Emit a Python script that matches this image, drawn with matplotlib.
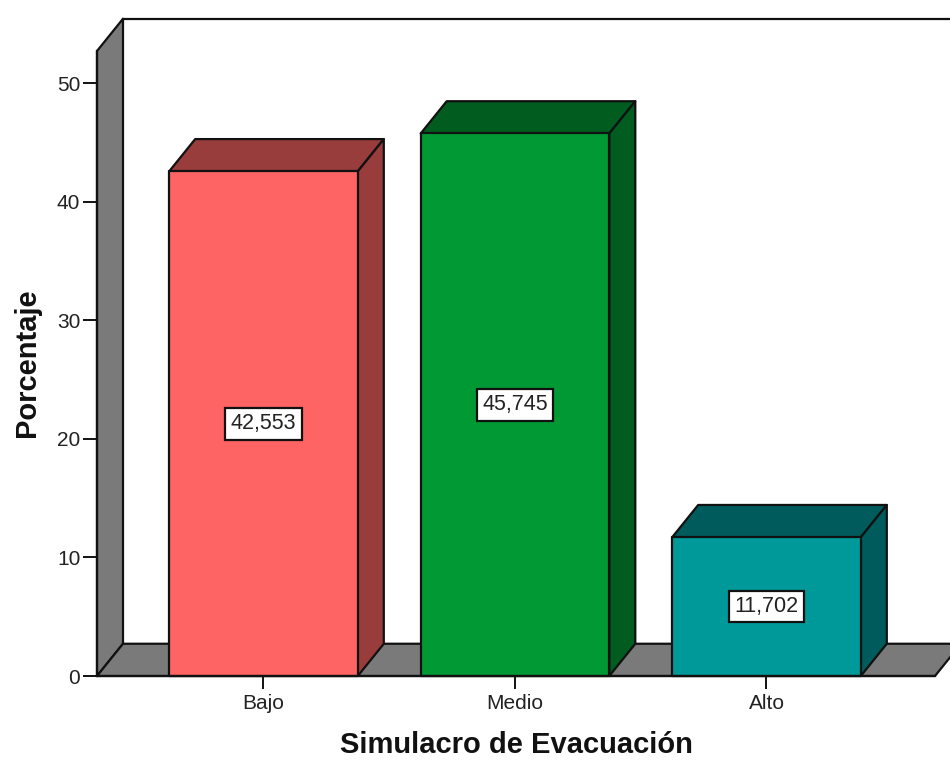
import matplotlib
matplotlib.use('Agg')
import matplotlib.pyplot as plt
from matplotlib.patches import Polygon

plt.rcParams['font.family'] = ['Liberation Sans', 'DejaVu Sans']

categories = ['Bajo', 'Medio', 'Alto']
values = [42.553, 45.745, 11.702]
value_labels = ['42,553', '45,745', '11,702']
front_colors = ['#ff6464', '#009933', '#009999']
dark_colors = ['#993c3c', '#005c1f', '#005c5c']
y_ticks = [0, 10, 20, 30, 40, 50]

wall_color = '#7a7a7a'
line_color = '#111111'
bar_width = 0.75
dx = 26 / 251.5   # depth of the 3d effect, in data units
dy = 2.72

fig = plt.figure(figsize=(9.5, 7.6), dpi=100)
ax = fig.add_axes([97 / 950, 1 - 676 / 760, (935 - 97) / 950, (676 - 51) / 760])
ax.set_xlim(-0.662, 2.67)
ax.set_ylim(0, 52.7)
x0, x1 = ax.get_xlim()
y1 = ax.get_ylim()[1]


def face(points, color):
    ax.add_patch(Polygon(points, closed=True, facecolor=color, edgecolor=line_color,
                         linewidth=1.6, joinstyle='round', clip_on=False))


# paredes
face([(x0, 0), (x0 + dx, dy), (x0 + dx, y1 + dy), (x0, y1)], wall_color)
face([(x0, 0), (x1, 0), (x1 + dx, dy), (x0 + dx, dy)], wall_color)
ax.plot([x0 + dx, x1 + dx], [y1 + dy, y1 + dy], color=line_color, lw=1.6, clip_on=False)

# barras
for i, v in enumerate(values):
    l = i - bar_width / 2
    r = i + bar_width / 2
    face([(l, v), (r, v), (r + dx, v + dy), (l + dx, v + dy)], dark_colors[i])
    face([(r, 0), (r + dx, dy), (r + dx, v + dy), (r, v)], dark_colors[i])
    face([(l, 0), (r, 0), (r, v), (l, v)], front_colors[i])
    ax.text(i, v / 2, value_labels[i], ha='center', va='center', fontsize=15.5, color='#222222',
            bbox=dict(boxstyle='square,pad=0.25', facecolor='white', edgecolor=line_color, linewidth=1.6),
            zorder=5)

for s in ['top', 'right']:
    ax.spines[s].set_visible(False)
for s in ['left', 'bottom']:
    ax.spines[s].set_linewidth(1.6)
    ax.spines[s].set_color(line_color)

ax.set_xticks(range(len(categories)))
ax.set_xticklabels(categories)
ax.set_yticks(y_ticks)
ax.tick_params(axis='x', length=9, width=1.4, color=line_color, labelsize=15, labelcolor='#222222', pad=4)
ax.tick_params(axis='y', length=10, width=1.4, color=line_color, labelsize=15, labelcolor='#222222', pad=2)

fig.text(516 / 950, 1 - 753 / 760, 'Simulacro de Evacuación', ha='center', va='baseline',
         fontsize=21, fontweight='bold', color='#111111')
fig.text(35 / 950, 1 - 363 / 760, 'Porcentaje', ha='center', va='baseline', rotation=90,
         rotation_mode='anchor', fontsize=21, fontweight='bold', color='#111111')

fig.savefig('out.png', dpi=100)
